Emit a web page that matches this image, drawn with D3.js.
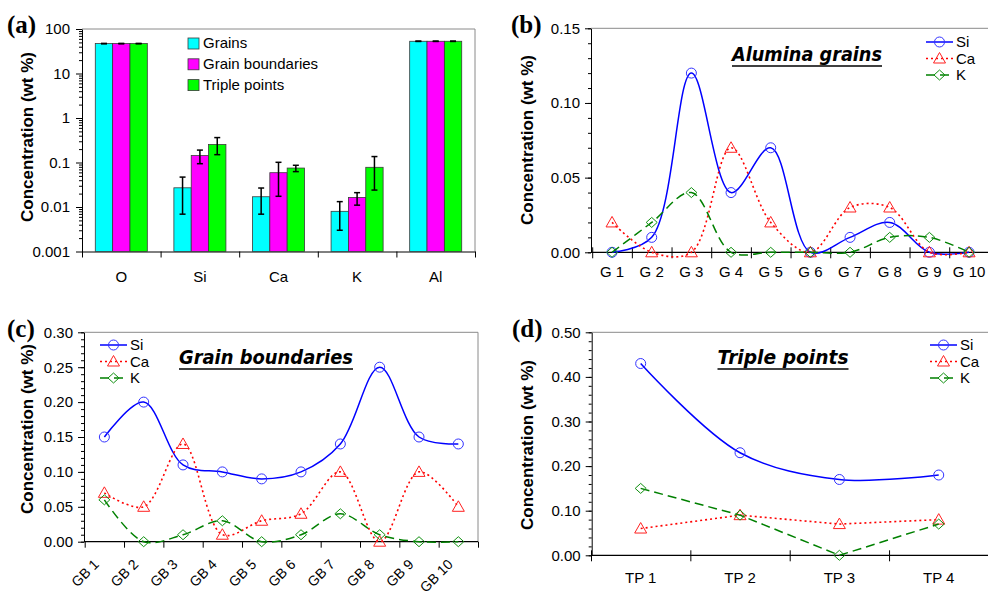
<!DOCTYPE html>
<html><head><meta charset="utf-8">
<script src="https://cdn.jsdelivr.net/npm/d3@7"></script>
<style>
body{margin:0;background:#fff}
svg{display:block}
text{font-family:"Liberation Sans",Arial,Helvetica,sans-serif;fill:#000}
</style></head><body>
<svg id="chart" width="988" height="594"></svg>
<script>
// ---------- DATA ----------
// (a) bar chart, log scale
const elements = ["O", "Si", "Ca", "K", "Al"];
const barSeries = ["Grains", "Grain boundaries", "Triple points"];
const grainsVal = [47, 0.027, 0.017, 0.008, 53];
const grainsLo  = [46.5, 0.0069, 0.0069, 0.003, 52.5];
const grainsHi  = [47.5, 0.047, 0.0267, 0.0132, 53.5];
const gbVal = [47, 0.143, 0.059, 0.0164, 53];
const gbLo  = [46.5, 0.094, 0.0174, 0.011, 52.5];
const gbHi  = [47.5, 0.19, 0.101, 0.021, 53.5];
const tpVal = [47, 0.253, 0.075, 0.078, 53];
const tpLo  = [46.5, 0.15, 0.0624, 0.024, 52.5];
const tpHi  = [47.5, 0.363, 0.0866, 0.136, 53.5];
const logTicks = [0.001, 0.01, 0.1, 1, 10, 100];
const logTickLabels = ["0.001", "0.01", "0.1", "1", "10", "100"];

// (b) alumina grains
const gCats = ["G 1", "G 2", "G 3", "G 4", "G 5", "G 6", "G 7", "G 8", "G 9", "G 10"];
const gSi = [0, 0.01, 0.12, 0.04, 0.07, 0, 0.01, 0.02, 0, 0];
const gCa = [0.02, 0, 0, 0.07, 0.02, 0, 0.03, 0.03, 0, 0];
const gK  = [0, 0.02, 0.04, 0, 0, 0, 0, 0.01, 0.01, 0];

// (c) grain boundaries
const gbCats = ["GB 1", "GB 2", "GB 3", "GB 4", "GB 5", "GB 6", "GB 7", "GB 8", "GB 9", "GB 10"];
const gbSi = [0.15, 0.20, 0.11, 0.10, 0.09, 0.10, 0.14, 0.25, 0.15, 0.14];
const gbCa = [0.07, 0.05, 0.14, 0.01, 0.03, 0.04, 0.10, 0.00, 0.10, 0.05];
const gbK  = [0.06, 0.00, 0.01, 0.03, 0.00, 0.01, 0.04, 0.01, 0.00, 0.00];

// (d) triple points
const tpCats = ["TP 1", "TP 2", "TP 3", "TP 4"];
const tpSi = [0.43, 0.23, 0.17, 0.18];
const tpCa = [0.06, 0.09, 0.07, 0.08];
const tpK  = [0.15, 0.09, 0.00, 0.07];

const seriesNames = ["Si", "Ca", "K"];

// ---------- STYLE ----------
const barColors = ["#00ffff", "#ff00ff", "#00ff00"];
const lineStyle = {
  Si: {stroke: "#0000ff", mark: "#3333ff", dash: null, width: 1.5},
  Ca: {stroke: "#ff0000", mark: "#ff2020", dash: "2,3", width: 1.6},
  K:  {stroke: "#008000", mark: "#109010", dash: "9,5", width: 1.5}
};
const smooth = d3.curveCatmullRom.alpha(0.5);
const svg = d3.select("#chart");
const AXIS = "#000";
const BOX = "#8a8a8a";

function yTitle(x, y) {
  svg.append("text").attr("transform", `translate(${x},${y}) rotate(-90)`)
    .attr("text-anchor", "middle").attr("dominant-baseline", "central")
    .style("font-weight", "bold").style("font-size", "17px")
    .text("Concentration (wt %)");
}
function panelLabel(x, y, t) {
  svg.append("text").attr("x", x).attr("y", y)
    .style("font-family", "'Liberation Serif','Times New Roman',serif")
    .style("font-weight", "bold").style("font-size", "25px").text(t);
}
function drawMarker(g, type, cx, cy, color) {
  if (type === "Si") {
    g.append("circle").attr("cx", cx).attr("cy", cy).attr("r", 5)
      .attr("fill", "none").attr("stroke", color).attr("stroke-width", 1);
  } else if (type === "Ca") {
    g.append("path").attr("d", `M${cx},${cy-6}L${cx+6},${cy+4.5}L${cx-6},${cy+4.5}Z`)
      .attr("fill", "none").attr("stroke", color).attr("stroke-width", 1);
  } else {
    g.append("path").attr("d", `M${cx},${cy-5}L${cx+5.5},${cy}L${cx},${cy+5}L${cx-5.5},${cy}Z`)
      .attr("fill", "none").attr("stroke", color).attr("stroke-width", 1);
  }
}
function styleAxis(sel) {
  sel.selectAll("text").style("font-size", "15px").attr("fill", "#000");
  sel.selectAll("line").attr("stroke", AXIS);
  sel.select(".domain").attr("stroke", AXIS);
}

// ---------- PANEL (a) ----------
(function () {
  const left = 82, right = 475, top = 29, bottom = 251.5;
  const x = d3.scaleBand().domain(elements).range([left, right]).paddingInner(0.338).paddingOuter(0.169);
  const xs = d3.scaleBand().domain(barSeries).range([0, x.bandwidth()]);
  const xi = d3.scaleLinear().domain([0, elements.length]).range([left, right]);
  const y = d3.scaleLog().domain([0.001, 100]).range([bottom, top]);
  const g = svg.append("g");

  g.append("line").attr("x1", left).attr("x2", right).attr("y1", top).attr("y2", top).attr("stroke", BOX);
  g.append("line").attr("x1", right).attr("x2", right).attr("y1", top).attr("y2", bottom).attr("stroke", BOX);

  const minor = [];
  for (let e = -3; e < 2; e++) for (let k = 2; k <= 9; k++) minor.push(k * Math.pow(10, e));
  g.append("g").attr("transform", `translate(${left},0)`)
    .call(d3.axisLeft(y).tickValues(minor).tickSize(3).tickFormat(""))
    .call(s => { s.select(".domain").remove(); s.selectAll("line").attr("stroke", AXIS); });
  g.append("g").attr("transform", `translate(${left},0)`)
    .call(d3.axisLeft(y).tickValues(logTicks).tickSize(6).tickSizeOuter(0).tickPadding(6)
      .tickFormat((d, i) => logTickLabels[i]))
    .call(styleAxis);
  g.append("g").attr("transform", `translate(0,${bottom})`)
    .call(d3.axisBottom(xi).tickValues(d3.range(elements.length + 1)).tickSize(6).tickSizeOuter(0).tickFormat(""))
    .call(styleAxis);
  g.append("g").attr("transform", `translate(0,${bottom})`)
    .call(d3.axisBottom(x).tickSize(0).tickSizeOuter(0))
    .call(s => { s.select(".domain").remove(); s.selectAll("text").style("font-size", "15px").attr("y", 20); });

  const vals = [grainsVal, gbVal, tpVal], los = [grainsLo, gbLo, tpLo], his = [grainsHi, gbHi, tpHi];
  barSeries.forEach((s, si) => {
    elements.forEach((el, ei) => {
      const bx = x(el) + xs(s);
      g.append("rect").attr("x", bx).attr("y", y(vals[si][ei]))
        .attr("width", xs.bandwidth()).attr("height", bottom - y(vals[si][ei]))
        .attr("fill", barColors[si]).attr("stroke", "#3a3a3a").attr("stroke-width", 0.8);
    });
  });
  barSeries.forEach((s, si) => {
    elements.forEach((el, ei) => {
      const cx = x(el) + xs(s) + xs.bandwidth() / 2;
      const y1 = y(los[si][ei]), y2 = y(his[si][ei]);
      g.append("line").attr("x1", cx).attr("x2", cx).attr("y1", y1).attr("y2", y2).attr("stroke", "#000").attr("stroke-width", 1.5);
      [y1, y2].forEach(yy => g.append("line").attr("x1", cx - 3).attr("x2", cx + 3).attr("y1", yy).attr("y2", yy).attr("stroke", "#000").attr("stroke-width", 1.5));
    });
  });
  barSeries.forEach((s, i) => {
    const by = 48 + i * 20.8;
    g.append("rect").attr("x", 188).attr("y", by - 10).attr("width", 11).attr("height", 11)
      .attr("fill", barColors[i]).attr("stroke", "#3a3a3a").attr("stroke-width", 0.8);
    g.append("text").attr("x", 203).attr("y", by).style("font-size", "15px").text(s);
  });
  yTitle(27, 137);
  panelLabel(7, 33, "(a)");
})();

// ---------- LINE PANELS ----------
function linePanel(p) {
  const g = svg.append("g");
  const n = p.cats.length;
  const x = d3.scaleBand().domain(p.cats).range(p.xRange);
  const xi = d3.scaleLinear().domain([0, n]).range(p.xRange);
  const y = d3.scaleLinear().domain(p.yDomain).range([p.bottom, p.top]);

  g.append("line").attr("x1", p.left).attr("x2", p.right).attr("y1", p.top).attr("y2", p.top).attr("stroke", BOX);
  if (p.boxRight) g.append("line").attr("x1", p.right).attr("x2", p.right).attr("y1", p.top).attr("y2", p.bottom).attr("stroke", BOX);

  const minor = d3.range(0, Math.round(p.yDomain[1] / p.minorStep) + 1).map(i => +(i * p.minorStep).toFixed(4));
  const major = d3.range(0, Math.round(p.yDomain[1] / p.majorStep) + 1).map(i => +(i * p.majorStep).toFixed(4));
  g.append("g").attr("transform", `translate(${p.left},0)`)
    .call(d3.axisLeft(y).tickValues(minor).tickSize(3).tickFormat(""))
    .call(s => { s.select(".domain").remove(); s.selectAll("line").attr("stroke", AXIS); });
  g.append("g").attr("transform", `translate(${p.left},0)`)
    .call(d3.axisLeft(y).tickValues(major).tickSize(6).tickSizeOuter(0).tickPadding(5).tickFormat(d3.format(".2f")))
    .call(styleAxis);

  g.append("line").attr("x1", p.left).attr("x2", p.right).attr("y1", p.bottom).attr("y2", p.bottom).attr("stroke", AXIS).attr("stroke-width", 1.2);
  g.append("g").attr("transform", `translate(0,${p.bottom})`)
    .call(d3.axisBottom(xi).tickValues(d3.range(n + 1)).tickSize(6).tickSizeOuter(0).tickFormat(""))
    .call(s => {
      s.select(".domain").remove();
      s.selectAll("line").attr("stroke", AXIS).attr("y1", p.tickUp ? -5 : 0).attr("y2", 6);
    });
  const lab = g.append("g").attr("transform", `translate(0,${p.bottom})`)
    .call(d3.axisBottom(x).tickSize(0).tickSizeOuter(0));
  lab.select(".domain").remove();
  lab.selectAll("text").style("font-size", "15px");
  if (p.rotate) {
    lab.selectAll("text").style("font-size", "14px").attr("y", 0).attr("x", 0).attr("dy", "0.35em")
      .attr("text-anchor", "end").attr("transform", "translate(-8,20) rotate(-45)");
  } else {
    lab.selectAll("text").attr("y", p.labelY);
  }

  const cx = c => x(c) + x.bandwidth() / 2;
  p.series.forEach(s => {
    const st = lineStyle[s.name];
    const pts = s.vals.map((v, i) => [cx(p.cats[i]), y(v)]);
    const line = d3.line().curve(s.curve);
    g.append("path").attr("d", line(pts)).attr("fill", "none")
      .attr("stroke", st.stroke).attr("stroke-width", st.width)
      .attr("stroke-dasharray", st.dash);
    pts.forEach(pt => drawMarker(g, s.name, pt[0], pt[1], st.mark));
  });

  seriesNames.forEach((nm, i) => {
    const st = lineStyle[nm];
    const by = p.legY + i * 16.5;
    g.append("line").attr("x1", p.legX).attr("x2", p.legX + 27).attr("y1", by - 5).attr("y2", by - 5)
      .attr("stroke", st.stroke).attr("stroke-width", st.width).attr("stroke-dasharray", st.dash);
    drawMarker(g, nm, p.legX + 13.5, by - 5, st.mark);
    g.append("text").attr("x", p.legX + 30).attr("y", by).style("font-size", "15px").text(nm);
  });

  g.append("text").attr("x", p.titleX).attr("y", p.titleY)
    .attr("text-anchor", "middle")
    .style("font-family", "'Comic Sans MS','DejaVu Sans',sans-serif")
    .style("font-weight", "bold").style("font-style", "italic").style("font-size", "19px")
    .attr("textLength", p.titleW).attr("lengthAdjust", "spacingAndGlyphs")
    .text(p.title);
  g.append("line").attr("x1", p.titleX - p.titleW / 2).attr("x2", p.titleX + p.titleW / 2)
    .attr("y1", p.titleY + 5).attr("y2", p.titleY + 5).attr("stroke", "#000").attr("stroke-width", 1.6);
}

linePanel({
  cats: gCats, left: 591, right: 988, xRange: [592.2, 988.9], top: 28.3, bottom: 252.3,
  yDomain: [0, 0.15], majorStep: 0.05, minorStep: 0.01, tickUp: true, labelY: 14,
  series: [
    {name: "Si", vals: gSi, curve: smooth},
    {name: "Ca", vals: gCa, curve: smooth},
    {name: "K", vals: gK, curve: smooth}
  ],
  legX: 926, legY: 47, title: "Alumina grains", titleX: 807, titleY: 61, titleW: 150
});
linePanel({
  cats: gbCats, left: 84, right: 478, xRange: [84.7, 478], top: 332.3, bottom: 541.7, boxRight: true,
  yDomain: [0, 0.30], majorStep: 0.05, minorStep: 0.01, tickUp: false, rotate: true,
  series: [
    {name: "Si", vals: gbSi, curve: smooth},
    {name: "Ca", vals: gbCa, curve: smooth},
    {name: "K", vals: gbK, curve: smooth}
  ],
  legX: 100, legY: 350, title: "Grain boundaries", titleX: 266, titleY: 364, titleW: 174
});
linePanel({
  cats: tpCats, left: 591.7, right: 988, xRange: [591, 988.4], top: 332.3, bottom: 555.3,
  yDomain: [0, 0.50], majorStep: 0.10, minorStep: 0.02, tickUp: true, labelY: 16.7,
  series: [
    {name: "Si", vals: tpSi, curve: smooth},
    {name: "Ca", vals: tpCa, curve: d3.curveLinear},
    {name: "K", vals: tpK, curve: d3.curveLinear}
  ],
  legX: 930, legY: 350, title: "Triple points", titleX: 783, titleY: 364, titleW: 131
});

yTitle(527, 140);
yTitle(27, 429);
yTitle(527, 445);
panelLabel(511, 33, "(b)");
panelLabel(7, 337, "(c)");
panelLabel(512, 337, "(d)");
</script>
</body></html>
